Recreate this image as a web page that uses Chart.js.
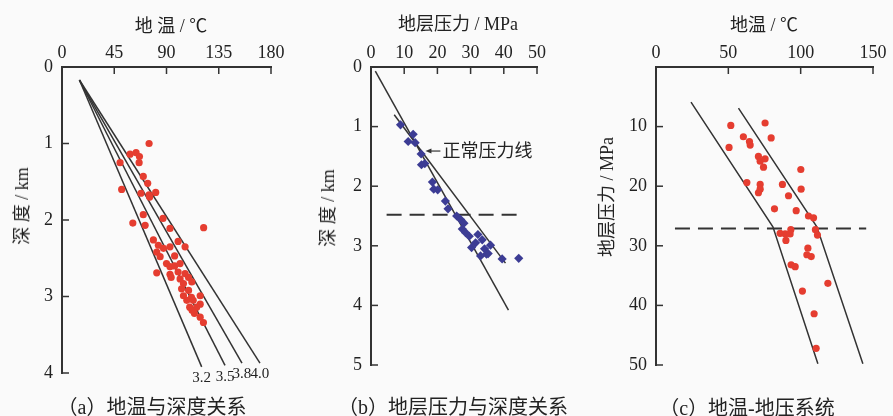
<!DOCTYPE html>
<html>
<head>
<meta charset="utf-8">
<script src="https://cdn.jsdelivr.net/npm/chart.js@4.4.1/dist/chart.umd.min.js"></script>
<style>
  body { margin: 0; background: #fafafa; }
  #wrap { position: relative; width: 893px; height: 416px; overflow: hidden; color: #222;
          font-family: "Liberation Serif", "Noto Sans CJK SC", serif; }
  .panel { position: absolute; top: 0; height: 395px; }
  .txt { position: absolute; white-space: nowrap; font-size: 18px; transform: translate(-50%, -50%); }
  .vtxt { transform: translate(-50%, -50%) rotate(-90deg); }
  .cap { font-size: 20px; }
</style>
</head>
<body>
<div id="wrap">
  <div class="panel" style="left:0;width:300px"><canvas id="chart-a"></canvas></div>
  <div class="panel" style="left:300px;width:280px"><canvas id="chart-b"></canvas></div>
  <div class="panel" style="left:580px;width:313px"><canvas id="chart-c"></canvas></div>

  <div class="txt" style="left:171px;top:24px">地 温 / ℃</div>
  <div class="txt vtxt" style="left:20px;top:206px">深 度 / km</div>
  <div class="txt cap" style="left:152px;top:405px">（a）地温与深度关系</div>

  <div class="txt" style="left:458px;top:22px">地层压力 / MPa</div>
  <div class="txt vtxt" style="left:326px;top:208px">深 度 / km</div>
  <div class="txt cap" style="left:453px;top:405px">（b）地层压力与深度关系</div>

  <div class="txt" style="left:764px;top:23px">地温 / ℃</div>
  <div class="txt vtxt" style="left:605px;top:197px">地层压力 / MPa</div>
  <div class="txt cap" style="left:747px;top:406px">（c）地温-地压系统</div>
</div>

<script>
// (a) 地温与深度
const tempTicksA = [0, 45, 90, 135, 180];
const depthTicksA = [0, 1, 2, 3, 4];
const gradientLabels = ['3.2', '3.5', '3.8', '4.0'];
const gradientStartTemp = 15;
const gradientStartDepth = 0.17;
const gradientEndTemp = [120.3, 140.4, 155, 170.5];
const gradientEndDepth = [3.92, 3.90, 3.87, 3.87];
const wellTemp = [75, 58.6, 63.8, 66.7, 66.4, 50, 70, 73.8, 51.4, 68, 75, 80.7, 75.5, 70, 87, 61, 71.6, 93, 122,
  78.7, 83, 87.4, 93, 100, 106, 81.6, 84.5, 97, 90, 93, 97, 101.7, 81.6, 93, 100, 106, 109, 94, 101.7,
  104.6, 111.8, 103, 109, 104.6, 111.5, 119, 107.5, 113, 110, 116, 119, 112, 114, 119, 121.8];
const wellDepth = [1.00, 1.14, 1.12, 1.17, 1.25, 1.25, 1.43, 1.52, 1.60, 1.65, 1.67, 1.64, 1.70, 1.93, 1.98, 2.04, 2.07, 2.11, 2.10,
  2.26, 2.33, 2.37, 2.35, 2.28, 2.35, 2.42, 2.48, 2.47, 2.57, 2.61, 2.60, 2.57, 2.69, 2.71, 2.68, 2.70, 2.75, 2.75, 2.77,
  2.83, 2.81, 2.90, 2.92, 2.99, 3.01, 2.99, 3.05, 3.05, 3.14, 3.14, 3.10, 3.18, 3.22, 3.27, 3.34];

// (b) 地层压力与深度
const pressTicksB = [0, 10, 20, 30, 40, 50];
const depthTicksB = [0, 1, 2, 3, 4, 5];
const normalLinePress = [1.3, 41.4];
const normalLineDepth = [0.07, 4.08];
const fitLinePress = [7.0, 40.5];
const fitLineDepth = [0.80, 3.29];
const boundaryDepthB = 2.48;
const boundaryPressB = [4.7, 45];
const measPress = [8.9, 12.7, 11.2, 13.3, 15.1, 15.2, 16.2, 18.5, 18.9, 20.1, 22.4, 23.2, 25.8, 27, 28, 27.5, 28.5,
  29.6, 32.2, 30.3, 31.5, 33.5, 33, 34.2, 34.8, 36, 35.3, 39.5, 44.5];
const measDepth = [0.97, 1.13, 1.25, 1.27, 1.46, 1.64, 1.62, 1.93, 2.05, 2.06, 2.25, 2.38, 2.50, 2.56, 2.62, 2.72, 2.78,
  2.84, 2.81, 3.03, 2.95, 2.90, 3.17, 3.05, 3.14, 2.99, 3.13, 3.22, 3.21];

// (c) 地温-地压系统
const tempTicksC = [0, 50, 100, 150];
const pressTicksC = [10, 20, 30, 40, 50];
const envLeftTemp = [24.2, 80.8, 111.9];
const envLeftPress = [5.9, 26.8, 49.8];
const envRightTemp = [57, 111.2, 143];
const envRightPress = [6.9, 26.8, 49.8];
const boundaryPressC = 27.1;
const boundaryTempC = [13.1, 145.3];
const sysTemp = [51.7, 75.4, 50.5, 60.4, 64.6, 65.1, 79.6, 70.8, 72.0, 75.4, 74.3, 62.8, 72.0, 72.0, 70.8, 87.4, 100.1,
  100.3, 91.6, 81.9, 96.9, 105.4, 108.9, 85.8, 89.3, 93.2, 92.7, 89.8, 110.2, 111.6, 105.0, 104.3, 107.3, 93.4, 96.2,
  118.8, 101.2, 109.3, 110.7];
const sysPress = [9.8, 9.4, 13.5, 11.7, 12.5, 13.1, 11.9, 15.0, 15.8, 15.4, 16.8, 19.4, 19.7, 20.5, 21.1, 19.7, 17.2,
  20.5, 21.6, 23.8, 24.1, 25.0, 25.3, 27.9, 28.0, 27.3, 28.0, 29.1, 27.3, 28.2, 30.4, 31.5, 31.8, 33.2, 33.5,
  36.3, 37.6, 41.4, 47.2];

const SERIF = '"Liberation Serif", "Noto Sans CJK SC", serif';
const INK = '#333';
const RED = '#e53d30';
const BLUE = '#3c3c94';

function pts(xs, ys) {
  return xs.map(function (x, i) { return { x: x, y: ys[i] }; });
}

function axis(position, min, max, ticks, boxSize) {
  return {
    type: 'linear',
    position: position,
    min: min,
    max: max,
    reverse: position === 'left',
    afterBuildTicks: function (s) { s.ticks = ticks.map(function (v) { return { value: v }; }); },
    afterFit: function (s) { if (position === 'top') s.height = boxSize; else s.width = boxSize; },
    grid: { display: false, drawTicks: false },
    border: { display: true, color: INK, width: 2 },
    ticks: { color: '#222', font: { family: SERIF, size: 18 }, padding: position === 'top' ? 3 : 9, autoSkip: false, maxRotation: 0 }
  };
}

function lineSet(data, dash) {
  return { data: data, showLine: true, pointRadius: 0, borderColor: INK, borderWidth: dash ? 2 : 1.5,
           borderDash: dash ? [15, 8] : [], fill: false };
}

// 坐标轴刻度朝内
const inwardTicks = {
  id: 'inwardTicks',
  afterDatasetsDraw: function (chart) {
    const ctx = chart.ctx, area = chart.chartArea;
    ctx.save();
    ctx.strokeStyle = INK;
    ctx.lineWidth = 1.5;
    Object.values(chart.scales).forEach(function (s) {
      s.ticks.forEach(function (t) {
        const p = s.getPixelForValue(t.value);
        ctx.beginPath();
        if (s.isHorizontal()) { ctx.moveTo(p, area.top); ctx.lineTo(p, area.top + 7); }
        else { ctx.moveTo(area.left, p); ctx.lineTo(area.left + 7, p); }
        ctx.stroke();
      });
    });
    ctx.restore();
  }
};

function baseOptions(xAxis, yAxis, pad) {
  return {
    responsive: true,
    maintainAspectRatio: false,
    animation: false,
    layout: { padding: pad },
    plugins: { legend: { display: false }, tooltip: { enabled: false } },
    scales: { x: xAxis, y: yAxis }
  };
}

function buildTempDepth() {
  const gradientLabelPlugin = {
    id: 'gradientLabels',
    afterDatasetsDraw: function (chart) {
      const ctx = chart.ctx, sx = chart.scales.x, sy = chart.scales.y;
      ctx.save();
      ctx.fillStyle = '#222';
      ctx.font = '15px ' + SERIF;
      ctx.textAlign = 'center';
      ctx.textBaseline = 'top';
      gradientLabels.forEach(function (label, i) {
        ctx.fillText(label, sx.getPixelForValue(gradientEndTemp[i]), sy.getPixelForValue(gradientEndDepth[i]) + 4);
      });
      ctx.restore();
    }
  };
  const datasets = [{ data: pts(wellTemp, wellDepth), pointRadius: 3.6, pointBackgroundColor: RED, pointBorderWidth: 0 }];
  gradientEndTemp.forEach(function (t, i) {
    datasets.push(lineSet([{ x: gradientStartTemp, y: gradientStartDepth }, { x: t, y: gradientEndDepth[i] }]));
  });
  new Chart(document.getElementById('chart-a'), {
    type: 'scatter',
    data: { datasets: datasets },
    options: baseOptions(axis('top', 0, 180, tempTicksA, 67), axis('left', 0, 4, depthTicksA, 62),
                         { left: 0, top: 0, right: 29, bottom: 22 }),
    plugins: [inwardTicks, gradientLabelPlugin]
  });
}

function buildPressDepth() {
  // 正常压力线 标注
  const normalNote = {
    id: 'normalNote',
    afterDatasetsDraw: function (chart) {
      const ctx = chart.ctx, sx = chart.scales.x, sy = chart.scales.y;
      const hx = sx.getPixelForValue(16.4), tx = sx.getPixelForValue(20.9), y = sy.getPixelForValue(1.41);
      ctx.save();
      ctx.strokeStyle = INK;
      ctx.fillStyle = INK;
      ctx.lineWidth = 1.2;
      ctx.beginPath(); ctx.moveTo(hx + 4, y); ctx.lineTo(tx, y); ctx.stroke();
      ctx.beginPath(); ctx.moveTo(hx, y); ctx.lineTo(hx + 6, y - 2.5); ctx.lineTo(hx + 6, y + 2.5); ctx.closePath(); ctx.fill();
      ctx.fillStyle = '#222';
      ctx.font = '18px ' + SERIF;
      ctx.textAlign = 'left';
      ctx.textBaseline = 'middle';
      ctx.fillText('正常压力线', tx + 2, y + 1);
      ctx.restore();
    }
  };
  new Chart(document.getElementById('chart-b'), {
    type: 'scatter',
    data: {
      datasets: [
        { data: pts(measPress, measDepth), pointStyle: 'rectRot', pointRadius: 4.6, pointBackgroundColor: BLUE, pointBorderWidth: 0 },
        lineSet(pts(normalLinePress, normalLineDepth)),
        lineSet(pts(fitLinePress, fitLineDepth)),
        lineSet(pts(boundaryPressB, [boundaryDepthB, boundaryDepthB]), true)
      ]
    },
    options: baseOptions(axis('top', 0, 50, pressTicksB, 67), axis('left', 0, 5, depthTicksB, 71),
                         { left: 0, top: 0, right: 43, bottom: 30 }),
    plugins: [inwardTicks, normalNote]
  });
}

function buildTempPress() {
  new Chart(document.getElementById('chart-c'), {
    type: 'scatter',
    data: {
      datasets: [
        { data: pts(sysTemp, sysPress), pointRadius: 3.6, pointBackgroundColor: RED, pointBorderWidth: 0 },
        lineSet(pts(envLeftTemp, envLeftPress)),
        lineSet(pts(envRightTemp, envRightPress)),
        lineSet(pts(boundaryTempC, [boundaryPressC, boundaryPressC]), true)
      ]
    },
    options: baseOptions(axis('top', 0, 150, tempTicksC, 67), axis('left', 0, 50, pressTicksC, 76),
                         { left: 0, top: 0, right: 20, bottom: 30 }),
    plugins: [inwardTicks]
  });
}

buildTempDepth();
buildPressDepth();
buildTempPress();
</script>
</body>
</html>
